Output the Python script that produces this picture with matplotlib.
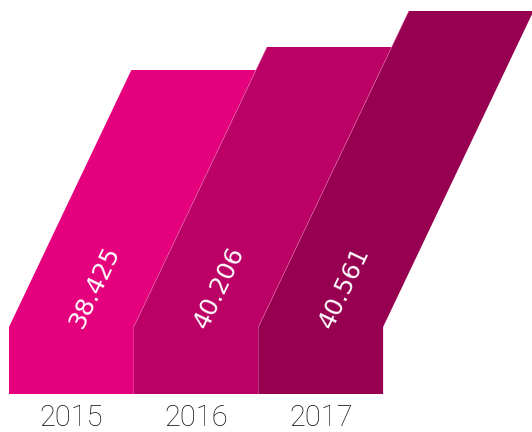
import matplotlib
matplotlib.use("Agg")
import matplotlib.pyplot as plt
from matplotlib.patches import Polygon

# ---- data ----
years = ["2015", "2016", "2017"]
values = [38.425, 40.206, 40.561]
value_labels = ["38.425", "40.206", "40.561"]
bar_heights = [324, 347, 383]   # visual heights (axis units)
colors = ["#E5007D", "#BB0066", "#970050"]

# ---- layout ----
base_h = 67          # height of the flat front block
bar_w = 124.7        # width of each block
x_start = 9
shear = 0.476        # horizontal shift per unit of height
angle = 64.5         # slant angle in degrees

fig = plt.figure(figsize=(5.32, 4.32), dpi=100)
ax = fig.add_axes([0, 0, 1, 1])
ax.set_xlim(0, 532)
ax.set_ylim(-38, 394)
ax.axis("off")

for i, (H, c) in enumerate(zip(bar_heights, colors)):
    x0 = x_start + i * bar_w
    x1 = x0 + bar_w
    dx = shear * (H - base_h)
    pts = [(x0, 0), (x1, 0), (x1, base_h), (x1 + dx, H), (x0 + dx, H), (x0, base_h)]
    ax.add_patch(Polygon(pts, closed=True, facecolor=c, edgecolor="none", zorder=2))
    if i > 0:
        ax.plot([x0, x0 + dx], [base_h, H], color="#e878b0", lw=0.5, alpha=0.7, zorder=3)
    # year label
    ax.text(x0 + bar_w / 2, -24, years[i], ha="center", va="center",
            fontsize=21, family=["Roboto", "DejaVu Sans"], fontweight="light",
            color="#111111")
    # rotated value label
    yl = base_h + 40
    xl = x0 + bar_w / 2 + shear * (yl - base_h) + 4
    ax.text(xl, yl, value_labels[i], ha="center", va="center", rotation=angle,
            rotation_mode="anchor", fontsize=18, family=["DejaVu Sans"],
            color="white", zorder=4)

fig.savefig("out.png", dpi=100)
